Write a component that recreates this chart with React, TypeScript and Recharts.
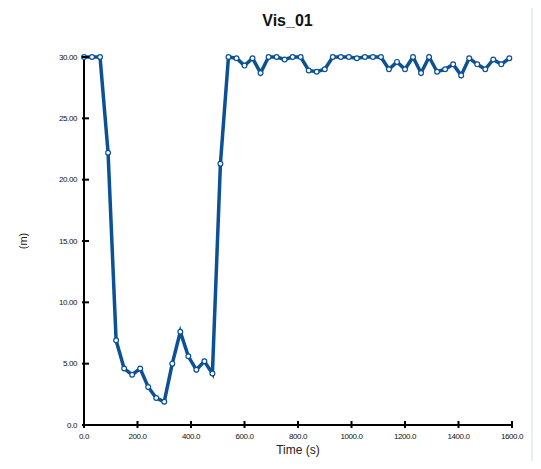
import { LineChart, Line, XAxis, YAxis, Label } from 'recharts'

// ─── Data ────────────────────────────────────────────────────────────────────

// sample times (s), every 30 s
const TIMES = [
  0, 30, 60, 90, 120, 150, 180, 210, 240, 270,
  300, 330, 360, 390, 420, 450, 480, 510, 540, 570,
  600, 630, 660, 690, 720, 750, 780, 810, 840, 870,
  900, 930, 960, 990, 1020, 1050, 1080, 1110, 1140, 1170,
  1200, 1230, 1260, 1290, 1320, 1350, 1380, 1410, 1440, 1470,
  1500, 1530, 1560, 1590,
]

// visibility (m)
const VIS = [
  30.0, 30.0, 30.0, 22.2, 6.9, 4.6, 4.1, 4.6, 3.1, 2.2,
  1.9, 5.0, 7.6, 5.6, 4.5, 5.2, 4.2, 21.3, 30.0, 29.9,
  29.3, 29.9, 28.7, 30.0, 30.0, 29.8, 30.0, 30.0, 28.9, 28.8,
  29.0, 30.0, 30.0, 30.0, 29.9, 30.0, 30.0, 30.0, 29.0, 29.6,
  29.0, 30.0, 28.7, 30.0, 28.8, 29.0, 29.4, 28.5, 29.9, 29.4,
  29.0, 29.8, 29.4, 29.9,
]

const X_TICKS = [0, 200, 400, 600, 800, 1000, 1200, 1400, 1600]
const Y_TICKS = [0, 5, 10, 15, 20, 25, 30]

const chartData = TIMES.map((t, i) => ({ t, vis: VIS[i] }))

const BLUE = '#0c5195'
const FONT = '"Liberation Sans", Arial, sans-serif'

// ─── Ticks that cross the axis ───────────────────────────────────────────────

function YTick({ x, y, payload }: any) {
  const v = payload.value
  return (
    <g>
      <line x1={x + 5} x2={x + 12} y1={y} y2={y} stroke="#000" strokeWidth={2} />
      <text x={x} y={y} textAnchor="end" dominantBaseline="central"
        fontSize={8} fontFamily={FONT} fill="#111" letterSpacing={-0.4}>
        {v === 0 ? '0.0' : v.toFixed(2)}
      </text>
    </g>
  )
}

function XTick({ x, y, payload }: any) {
  return (
    <g>
      <line x1={x} x2={x} y1={y - 12} y2={y - 5} stroke="#000" strokeWidth={2} />
      <text x={x} y={y + 3.5} textAnchor="middle" dominantBaseline="central"
        fontSize={8} fontFamily={FONT} fill="#111" letterSpacing={-0.4}>
        {payload.value.toFixed(1)}
      </text>
    </g>
  )
}

function Dot({ cx, cy }: any) {
  if (cx == null || cy == null) return null
  return <circle cx={cx} cy={cy} r={2.4} fill="#fff" stroke={BLUE} strokeWidth={1.2} />
}

export default function App() {
  return (
    <div style={{
      position: 'relative',
      margin: -8,
      width: 541,
      height: 469,
      background: '#e9eef2',
      fontFamily: FONT,
    }}>
      <div style={{
        position: 'absolute', left: 8, top: 7, width: 523, height: 455,
        background: '#fff',
      }} />
      <div style={{
        position: 'absolute', left: 0, width: 575, top: 12,
        textAlign: 'center', fontSize: 16, fontWeight: 700, color: '#111',
      }}>
        Vis_01
      </div>
      <div style={{ position: 'absolute', left: 0, top: 0 }}>
        <LineChart
          width={541}
          height={469}
          data={chartData}
          margin={{ top: 57, right: 29, left: 24, bottom: 14 }}
        >
          <XAxis
            dataKey="t"
            type="number"
            domain={[0, 1600]}
            ticks={X_TICKS}
            interval={0}
            height={30}
            tickSize={0}
            tickMargin={8}
            tickLine={false}
            tick={<XTick />}
            axisLine={{ stroke: '#000', strokeWidth: 2 }}
          >
            <Label value="Time (s)" position="bottom" offset={-10}
              style={{ fontSize: 12, fill: '#222', fontFamily: FONT }} />
          </XAxis>
          <YAxis
            type="number"
            domain={[0, 30]}
            ticks={Y_TICKS}
            interval={0}
            width={60}
            tickSize={0}
            tickMargin={7}
            tickLine={false}
            tick={<YTick />}
            axisLine={{ stroke: '#000', strokeWidth: 2 }}
          >
            <Label value="(m)" angle={-90} position="insideLeft" offset={-1}
              style={{ fontSize: 11, fill: '#222', fontFamily: FONT, textAnchor: 'middle' }} />
          </YAxis>
          <Line
            dataKey="vis"
            type="linear"
            stroke={BLUE}
            strokeWidth={3.5}
            dot={<Dot />}
            activeDot={false}
            isAnimationActive={false}
          />
        </LineChart>
      </div>
    </div>
  )
}
